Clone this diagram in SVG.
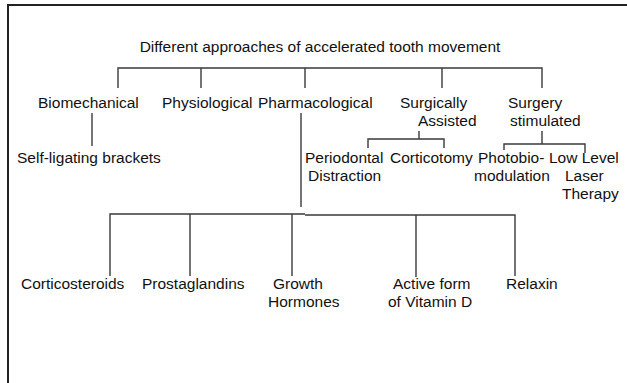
<svg xmlns="http://www.w3.org/2000/svg" width="627" height="383" viewBox="0 0 627 383">
<style>
text{font-family:"Liberation Sans",Arial,sans-serif;font-size:15.5px;fill:#111}
.c line,.c polyline{stroke:#3a3a3a;stroke-width:1.4;fill:none}
.frame{stroke:#222;stroke-width:2;fill:none}
</style>
<rect width="627" height="383" fill="#fff"/>
<polyline class="frame" points="8,383 8,5 627,5"/>
<g class="c" id="connectors">
<polyline points="118,88 118,68 542,68 542,88"/>
<line x1="201" y1="68" x2="201" y2="88"/>
<line x1="305" y1="68" x2="305" y2="88"/>
<line x1="442" y1="68" x2="442" y2="88"/>
<line x1="92" y1="113" x2="92" y2="146"/>
<line x1="301" y1="113" x2="301" y2="207"/>
<line x1="419" y1="131" x2="419" y2="139"/>
<polyline points="368,148 368,139 444,139 444,148"/>
<line x1="542" y1="131" x2="542" y2="144"/>
<polyline points="504,150 504,144 585,144 585,153"/>
<polyline points="110,276 110,214 305,214"/>
<polyline points="305,215 515,215 515,276"/>
<line x1="190" y1="214" x2="190" y2="276"/>
<line x1="292" y1="214" x2="292" y2="276"/>
<line x1="416" y1="215" x2="416" y2="277"/>
</g>
<g id="root"><text x="320" y="52" text-anchor="middle">Different approaches of accelerated tooth movement</text></g>
<g id="biomechanical"><text x="38" y="108">Biomechanical</text></g>
<g id="physiological"><text x="162" y="108">Physiological</text></g>
<g id="pharmacological"><text x="258" y="108">Pharmacological</text></g>
<g id="surgically"><text x="400" y="108">Surgically</text><text x="418" y="126">Assisted</text></g>
<g id="surgery"><text x="508" y="108">Surgery</text><text x="510" y="126">stimulated</text></g>
<g id="selfligating"><text x="17" y="163">Self-ligating brackets</text></g>
<g id="periodontal"><text x="305" y="163">Periodontal</text><text x="308" y="181">Distraction</text></g>
<g id="corticotomy"><text x="390" y="163">Corticotomy</text></g>
<g id="photobio"><text x="478" y="163">Photobio-</text><text x="474" y="181">modulation</text></g>
<g id="lowlevel"><text x="549" y="163">Low Level</text><text x="565" y="181">Laser</text><text x="562" y="199">Therapy</text></g>
<g id="corticosteroids"><text x="21" y="289">Corticosteroids</text></g>
<g id="prostaglandins"><text x="142" y="289">Prostaglandins</text></g>
<g id="growth"><text x="273" y="289">Growth</text><text x="268" y="307">Hormones</text></g>
<g id="vitamind"><text x="393" y="289">Active form</text><text x="388" y="307">of Vitamin D</text></g>
<g id="relaxin"><text x="506" y="289">Relaxin</text></g>
</svg>
